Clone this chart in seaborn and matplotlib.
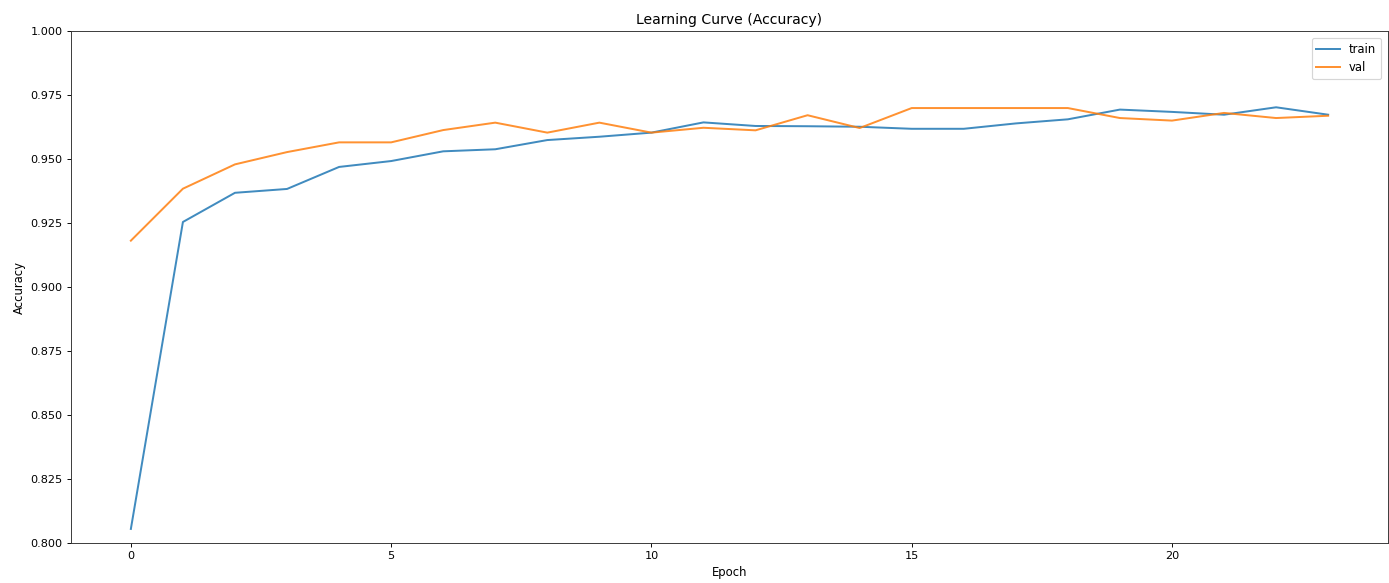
import matplotlib
matplotlib.use("Agg")
import matplotlib.pyplot as plt
import seaborn as sns
import pandas as pd

epochs = list(range(24))
train_acc = [0.8055, 0.9254, 0.9368, 0.9383, 0.9469, 0.9492, 0.9530, 0.9538,
             0.9574, 0.9587, 0.9603, 0.9643, 0.9629, 0.9628, 0.9626, 0.9618,
             0.9618, 0.9639, 0.9655, 0.9693, 0.9684, 0.9673, 0.9702, 0.9673]
val_acc = [0.9181, 0.9384, 0.9479, 0.9527, 0.9565, 0.9565, 0.9613, 0.9642,
           0.9603, 0.9642, 0.9603, 0.9622, 0.9612, 0.9671, 0.9621, 0.9699,
           0.9699, 0.9699, 0.9699, 0.9660, 0.9650, 0.9680, 0.9660, 0.9669]

df = pd.DataFrame({
    "Epoch": epochs * 2,
    "Accuracy": train_acc + val_acc,
    "set": ["train"] * len(epochs) + ["val"] * len(epochs),
})

plt.rcParams["font.family"] = ["DejaVu Sans"]
plt.rcParams["font.size"] = 9.6

DPI = 84
fig = plt.figure(figsize=(1389 / DPI, 583 / DPI), dpi=DPI)
ax = fig.add_axes([71 / 1389, 1 - 543 / 583, (1388 - 71) / 1389, (543 - 31) / 583])
sns.lineplot(data=df, x="Epoch", y="Accuracy", hue="set",
             palette=["#1f77b4", "#ff7f0e"], ax=ax, alpha=0.85, linewidth=1.7)
ax.set_ylim(0.8, 1.0)
ax.set_xlim(-1.15, 24.15)
ax.set_xticks([0, 5, 10, 15, 20])
ax.set_title("Learning Curve (Accuracy)", fontsize=12)
ax.set_xlabel("Epoch", fontsize=10)
ax.set_ylabel("Accuracy", fontsize=10)
ax.legend(loc="upper right", title=None, fontsize=10, borderaxespad=0.6)
for s in ax.spines.values():
    s.set_color("#333333")
fig.savefig("out.png", dpi=DPI)
